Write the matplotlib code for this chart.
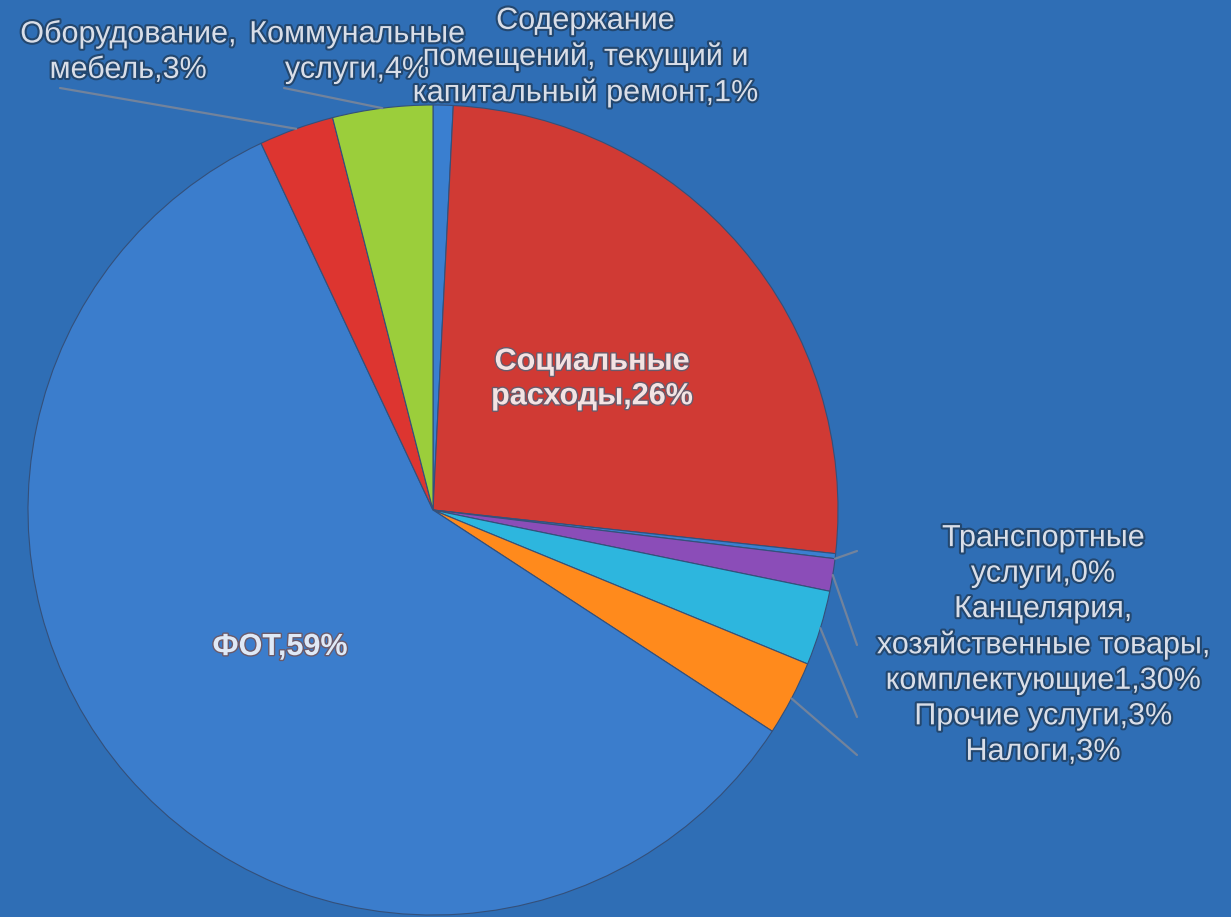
import numpy as np
import matplotlib.pyplot as plt
import matplotlib.patheffects as pe

# slices clockwise from 12 o'clock
labels = ['Содержание\nпомещений, текущий и\nкапитальный ремонт,1%',
          'Социальные\nрасходы,26%',
          'Транспортные\nуслуги,0%',
          'Канцелярия,\nхозяйственные товары,\nкомплектующие1,30%',
          'Прочие услуги,3%',
          'Налоги,3%',
          'ФОТ,59%',
          'Оборудование,\nмебель,3%',
          'Коммунальные\nуслуги,4%']
values = [0.8, 26, 0.2, 1.3, 3, 3, 59, 3, 4]
colors = ['#3a7fd0', '#d03a34', '#3a7fd0', '#8b4db8', '#2db6de',
          '#ff8a1c', '#3b7dcc', '#dd3530', '#9bce3b']

W, H = 1231, 917
BG = '#2f6eb5'
plt.rcParams['font.family'] = ['Liberation Sans', 'DejaVu Sans']

fig = plt.figure(figsize=(W / 100, H / 100), dpi=100, facecolor=BG)
# pie centre ~ (433, 510) px, radius ~405 px
cx, cy, R = 433, 510, 405
ax = fig.add_axes([(cx - R) / W, (H - cy - R) / H, 2 * R / W, 2 * R / H])
ax.set_facecolor(BG)
ax.axis('off')

wedges, _ = ax.pie(values, colors=colors, startangle=90, counterclock=False,
                   radius=1, center=(0, 0), frame=False,
                   wedgeprops=dict(edgecolor='#34507a', linewidth=0.8))
ax.set_xlim(-1, 1)
ax.set_ylim(-1, 1)


def fig_xy(px, py):
    return px / W, 1 - py / H


def edge_point(w, frac=0.5, r=1.0):
    a = np.deg2rad(w.theta1 + (w.theta2 - w.theta1) * frac)
    return r * np.cos(a), r * np.sin(a)


txt_kw = dict(color='#d9dee8', fontsize=22, ha='center', va='center',
              linespacing=1.24,
              path_effects=[pe.withStroke(linewidth=3, foreground='#23476f')])
line_kw = dict(arrowstyle='-', color='#72839c', lw=1.6, shrinkA=0, shrinkB=0)

# outside labels: (slice index, text centre px, line end px, fraction along wedge)
outer = [
    (7, (128, 52), (60, 88), 0.5),
    (8, (357, 52), (284, 88), 0.5),
    (0, (585, 57), None, 0.5),
]
for i, (tx, ty), end, frac in outer:
    fig.text(*fig_xy(tx, ty), labels[i], **txt_kw)
    if end is not None:
        ax.annotate('', xy=edge_point(wedges[i], frac), xycoords='data',
                    xytext=fig_xy(*end), textcoords='figure fraction',
                    arrowprops=line_kw)

# right-hand block
right_text = '\n'.join(labels[2:6])
fig.text(*fig_xy(1043, 645), right_text, **txt_kw)
right_ends = {2: ((857, 551), 0.0), 3: ((857, 645), 0.5),
              4: ((857, 717), 0.5), 5: ((857, 755), 0.5)}
for i, (end, frac) in right_ends.items():
    ax.annotate('', xy=edge_point(wedges[i], frac), xycoords='data',
                xytext=fig_xy(*end), textcoords='figure fraction',
                arrowprops=line_kw)

# inside labels
in_kw = dict(fontsize=22, ha='center', va='center', linespacing=1.2,
             fontweight='bold',
             path_effects=[pe.withStroke(linewidth=2, foreground='#6a5a6a')])
fig.text(*fig_xy(592, 379), labels[1], color='#f3e3e3', **in_kw)
fig.text(*fig_xy(280, 647), labels[6], color='#dfe9f6', **in_kw)

plt.savefig('out.png', dpi=100, facecolor=BG)
